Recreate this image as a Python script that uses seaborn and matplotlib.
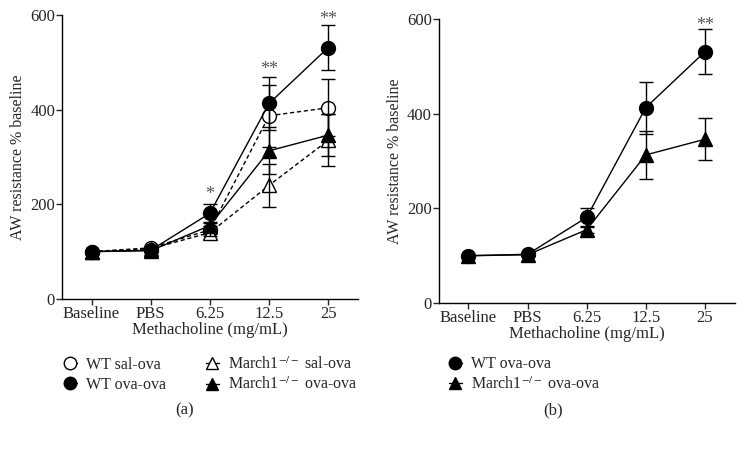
import pandas as pd
import seaborn as sns
import matplotlib.pyplot as plt

# data
doses = ["Baseline", "PBS", "6.25", "12.5", "25"]
wt_sal = [100, 108, 146, 387, 404]
wt_sal_err = [0, 4, 8, 65, 60]
wt_ova = [100, 103, 181, 413, 531]
wt_ova_err = [0, 3, 20, 55, 47]
ko_sal = [100, 106, 140, 240, 335]
ko_sal_err = [0, 4, 8, 45, 55]
ko_ova = [100, 102, 155, 313, 346]
ko_ova_err = [0, 3, 8, 50, 44]

stars_a = {2: (220, "*"), 3: (484, "**"), 4: (590, "**")}
stars_b = {4: (587, "**")}

ko = "March1$^{-/-}$"
series = {
    "WT sal-ova": (wt_sal, wt_sal_err, "o", "white", (0, (3, 2))),
    f"{ko} sal-ova": (ko_sal, ko_sal_err, "^", "white", (0, (3, 2))),
    f"{ko} ova-ova": (ko_ova, ko_ova_err, "^", "black", "-"),
    "WT ova-ova": (wt_ova, wt_ova_err, "o", "black", "-"),
}

sns.set_theme(style="ticks", rc={"axes.linewidth": 1, "axes.edgecolor": "black"})
plt.rcParams["font.family"] = ["Liberation Serif", "DejaVu Serif"]
plt.rcParams["mathtext.fontset"] = "stix"

fig = plt.figure(figsize=(7.45, 4.53), dpi=100)
ax_a = fig.add_axes([0.0832, 0.340, 0.397, 0.627])
ax_b = fig.add_axes([0.589, 0.331, 0.397, 0.627])


def draw(ax, names):
    for name in names:
        vals, errs, mk, fc, ls = series[name]
        df = pd.DataFrame({"x": range(len(doses)), "y": vals})
        sns.lineplot(data=df, x="x", y="y", ax=ax, color="black", lw=1,
                     linestyle=ls, marker=mk, markersize=10 if mk == "o" else 9.5,
                     markerfacecolor=fc, markeredgecolor="black",
                     markeredgewidth=1, legend=False)
        ax.errorbar(range(len(doses)), vals, yerr=errs, fmt="none",
                    ecolor="black", elinewidth=1, capsize=5, capthick=1)
    ax.set_xlim(-0.5, 4.5)
    ax.set_ylim(0, 600)
    ax.set_yticks([0, 200, 400, 600])
    ax.set_xticks(range(len(doses)))
    ax.set_xticklabels(doses)
    ax.tick_params(labelsize=12, length=4, width=1, pad=1)
    ax.set_xlabel("Methacholine (mg/mL)", fontsize=12, labelpad=0)
    ax.set_ylabel("AW resistance % baseline", fontsize=11.5, labelpad=3)
    sns.despine(ax=ax)


draw(ax_a, ["WT sal-ova", f"{ko} sal-ova", f"{ko} ova-ova", "WT ova-ova"])
draw(ax_b, [f"{ko} ova-ova", "WT ova-ova"])

for ax, stars in [(ax_a, stars_a), (ax_b, stars_b)]:
    for xi, (yv, s) in stars.items():
        ax.text(xi, yv, s, ha="center", va="center", fontsize=13, color="#555555")


def leg_handle(name):
    vals, errs, mk, fc, ls = series[name]
    return plt.Line2D([], [], color="black", lw=1, linestyle="-",
                      marker=mk, markersize=9, markerfacecolor=fc,
                      markeredgecolor="black")


order_a = ["WT sal-ova", "WT ova-ova", f"{ko} sal-ova", f"{ko} ova-ova"]
fig.legend([leg_handle(n) for n in order_a], order_a, ncol=2,
           loc="upper left", bbox_to_anchor=(0.077, 0.228), frameon=False,
           fontsize=11.5, handlelength=0.8, handletextpad=0.6,
           columnspacing=2.5, labelspacing=0.25, borderaxespad=0)

order_b = ["WT ova-ova", f"{ko} ova-ova"]
fig.legend([leg_handle(n) for n in order_b], order_b, ncol=1,
           loc="upper left", bbox_to_anchor=(0.594, 0.228), frameon=False,
           fontsize=11.5, handlelength=0.8, handletextpad=0.6,
           labelspacing=0.25, borderaxespad=0)

fig.text(185 / 745, 1 - 410 / 453, "(a)", ha="center", va="center", fontsize=12)
fig.text(553 / 745, 1 - 410 / 453, "(b)", ha="center", va="center", fontsize=12)

fig.savefig("out.png", dpi=100)
